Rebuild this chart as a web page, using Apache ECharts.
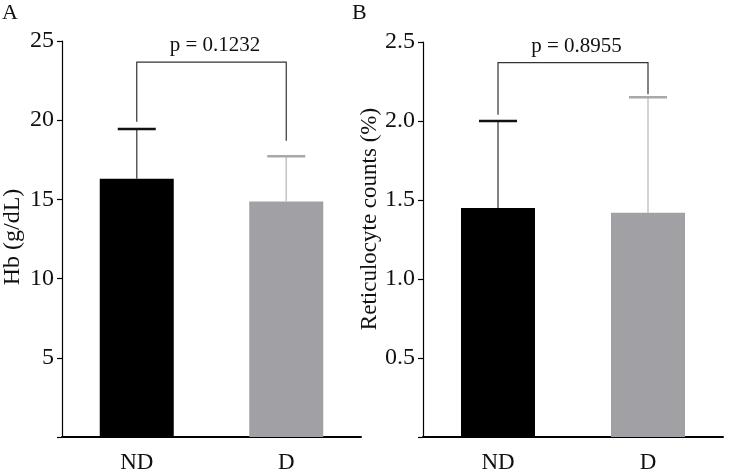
<!DOCTYPE html>
<html>
<head>
<meta charset="utf-8">
<script src="https://cdn.jsdelivr.net/npm/echarts@6/dist/echarts.min.js"></script>
<style>html,body{margin:0;padding:0;background:#fff}#c{width:733px;height:474px}</style>
</head>
<body>
<div id="c"></div>
<script>
// ---- data ----
var categories = ['ND', 'D'];
var hbMean = [16.3, 14.86];
var hbUpper = [19.44, 17.72];
var hbBracket = [23.67, 19.9, 18.7]; // top, left end, right end
var hbP = 'p = 0.1232';
var retMean = [1.45, 1.42];
var retUpper = [2.0, 2.15];
var retBracket = [2.37, 2.04, 2.17];
var retP = 'p = 0.8955';
var hbTicks = [0, 25, 5];   // min, max, interval
var retTicks = [0, 2.5, 0.5];

var FONT = 'Liberation Serif, Times New Roman, serif';
var barColors = ['#000000', '#a1a1a5'];
var stemColors = ['#5a5a5a', '#c4c4c4'];
var capColors = ['#111111', '#a8a8a8'];

var chart = echarts.init(document.getElementById('c'));

function errSeries(xi, yi, means, uppers) {
  return {
    type: 'custom', xAxisIndex: xi, yAxisIndex: yi, silent: true, z: 5,
    data: means.map(function (m, i) { return [i, m, uppers[i]]; }),
    renderItem: function (params, api) {
      var i = api.value(0);
      var p0 = api.coord([i, api.value(1)]);
      var p1 = api.coord([i, api.value(2)]);
      return {
        type: 'group', children: [
          { type: 'line', shape: { x1: p0[0], y1: p0[1], x2: p1[0], y2: p1[1] },
            style: { stroke: stemColors[i], lineWidth: 1.5 } },
          { type: 'line', shape: { x1: p1[0] - 19, y1: p1[1], x2: p1[0] + 19, y2: p1[1] },
            style: { stroke: capColors[i], lineWidth: 2.5 } }
        ]
      };
    }
  };
}

function bracketSeries(xi, yi, br, label) {
  return {
    type: 'custom', xAxisIndex: xi, yAxisIndex: yi, silent: true, z: 6,
    data: [[0, br[0], br[1], br[2]]],
    renderItem: function (params, api) {
      var top = api.value(1);
      var a = api.coord([0, api.value(2)]);
      var b = api.coord([0, top]);
      var c = api.coord([1, top]);
      var d = api.coord([1, api.value(3)]);
      return {
        type: 'group', children: [
          { type: 'polyline', shape: { points: [a, b, c, d] },
            style: { stroke: '#333', lineWidth: 1.2, fill: null } },
          { type: 'text', x: (b[0] + c[0]) / 2 + 3.5, y: b[1] - 6,
            style: { text: label, font: '21px ' + FONT, fill: '#111', align: 'center', verticalAlign: 'bottom' } }
        ]
      };
    }
  };
}

function yAxis(gi, t) {
  return {
    type: 'value', gridIndex: gi, min: t[0], max: t[1], interval: t[2],
    axisLine: { show: true, lineStyle: { color: '#000', width: 1.2 } },
    axisTick: { show: true, length: 5, lineStyle: { color: '#000', width: 1.2 } },
    splitLine: { show: false },
    axisLabel: {
      color: '#111', fontFamily: FONT, fontSize: 24, margin: 8,
      formatter: function (v) { return v === 0 ? '' : (t[2] < 1 ? v.toFixed(1) : String(v)); }
    }
  };
}

function xAxis(gi) {
  return {
    type: 'category', gridIndex: gi, data: categories,
    axisLine: { show: true, lineStyle: { color: '#000', width: 2 } },
    axisTick: { show: false },
    axisLabel: { color: '#111', fontFamily: FONT, fontSize: 23, margin: 14 }
  };
}

function barSeries(xi, yi, vals) {
  return {
    type: 'bar', xAxisIndex: xi, yAxisIndex: yi, barWidth: 74, silent: true,
    data: vals.map(function (v, i) { return { value: v, itemStyle: { color: barColors[i] } }; })
  };
}

chart.setOption({
  animation: false,
  backgroundColor: '#fff',
  grid: [
    { left: 62, top: 41, width: 299, height: 396 },
    { left: 423, top: 42, width: 300, height: 397 }
  ],
  xAxis: [xAxis(0), xAxis(1)],
  yAxis: [yAxis(0, hbTicks), yAxis(1, retTicks)],
  series: [
    barSeries(0, 0, hbMean),
    errSeries(0, 0, hbMean, hbUpper),
    bracketSeries(0, 0, hbBracket, hbP),
    barSeries(1, 1, retMean),
    errSeries(1, 1, retMean, retUpper),
    bracketSeries(1, 1, retBracket, retP)
  ],
  graphic: [
    { type: 'text', left: 2, top: 2, style: { text: 'A', font: '22px ' + FONT, fill: '#111' } },
    { type: 'text', left: 352, top: 2, style: { text: 'B', font: '22px ' + FONT, fill: '#111' } },
    { type: 'text', x: 13, y: 237, rotation: Math.PI / 2,
      style: { text: 'Hb (g/dL)', font: '24px ' + FONT, fill: '#111', align: 'center', verticalAlign: 'middle' } },
    { type: 'text', x: 370, y: 219, rotation: Math.PI / 2,
      style: { text: 'Reticulocyte counts (%)', font: '23px ' + FONT, fill: '#111', align: 'center', verticalAlign: 'middle' } }
  ]
});
</script>
</body>
</html>
